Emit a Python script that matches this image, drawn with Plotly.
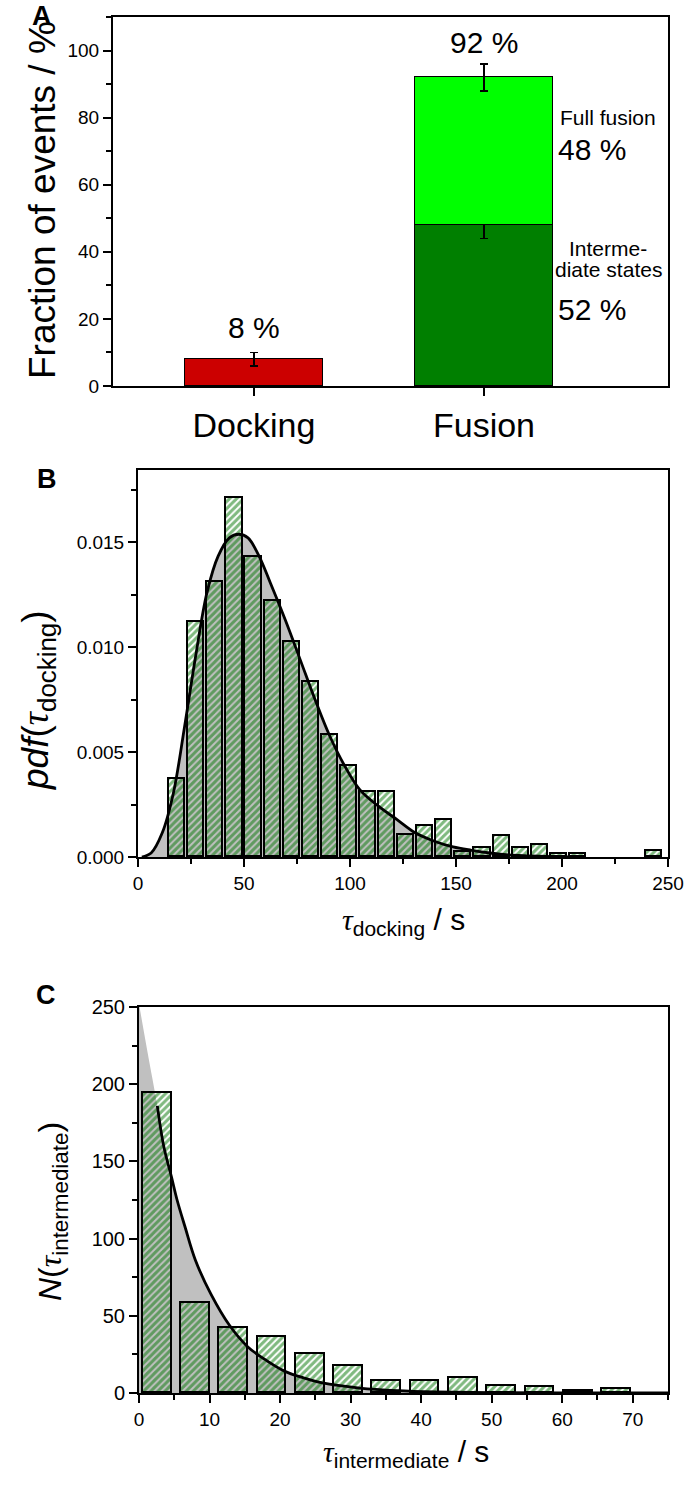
import plotly.graph_objects as go

# ---------------- Panel A data ----------------
a_categories = ["Docking", "Fusion"]
a_docking = [8]
a_docking_err = [2]
a_intermediate = [48]
a_intermediate_err = [4]
a_full = [44]
a_total_err = [4]
a_labels = ["8 %", "92 %", "48 %", "52 %"]
a_label_y = [17.3, 102.4]

# ---------------- Panel B data ----------------
b_centers = [18.5, 27.5, 36.5, 45.5, 54.5, 63.5, 72.5, 81.5, 90.5, 99.5, 108.5, 117.5,
             126.5, 135.5, 144.5, 153.5, 162.5, 171.5, 180.5, 189.5, 198.5, 207.5, 243.5]
b_pdf = [0.00372, 0.01117, 0.01309, 0.0171, 0.01427, 0.0122, 0.01026, 0.00834, 0.0058,
         0.00432, 0.00311, 0.00311, 0.00103, 0.00146, 0.00176, 0.00026, 0.00042, 0.00100,
         0.00042, 0.00057, 0.00013, 0.00013, 0.00028]
b_fit_x = [1.8, 6.2, 11.4, 16.7, 22.0, 27.2, 32.5, 37.8, 43.1, 47.5, 51.9, 57.1, 62.4,
           69.4, 76.5, 83.5, 90.5, 97.6, 104.6, 113.4, 122.2, 131.0, 139.8, 148.6, 157.3,
           166.1, 174.9, 192.5, 210.0]
b_fit_y = [0.0, 0.00019, 0.00114, 0.00305, 0.00623, 0.00957, 0.01258, 0.01433, 0.0152,
           0.01537, 0.0152, 0.01433, 0.01306, 0.01131, 0.0094, 0.0075, 0.00575, 0.00432,
           0.00321, 0.00242, 0.00178, 0.00114, 0.00075, 0.00048, 0.00032, 0.00019, 0.0001,
           0.00003, 0.0]

# ---------------- Panel C data ----------------
c_centers = [2.6, 8.0, 13.4, 18.85, 24.3, 29.75, 35.15, 40.55, 45.95, 51.45, 56.85, 62.3, 67.75]
c_counts = [194, 58, 42, 36, 25, 17.5, 8, 8, 9.5, 4.3, 3.7, 1.3, 2.6]
c_fit_x = [2.6, 3.5, 4.6, 5.4, 6.5, 8.0, 10.2, 12.8, 15.4, 18.1, 20.7, 23.4, 26.0, 31.3,
           36.6, 41.9, 50.0, 60.0, 75.0]
c_fit_y = [186, 160, 140, 125, 108, 86, 64, 44, 30, 21, 14, 9.7, 6.5, 3.2, 1.5, 0.7,
           0.2, 0.05, 0.01]
c_area_head_x = [0.0, 1.2]
c_area_head_y = [252, 221]

SANS = "Liberation Sans, Arial, sans-serif"
GREEN_DARK = "#007f00"
GREEN_LIGHT = "#00ff00"
RED = "#cc0000"
GRAY = "#c0c0c0"
HATCH = "#007400"

fig = go.Figure()

# ---- Panel A bars ----
fig.add_trace(go.Bar(x=[a_categories[0]], y=a_docking, width=0.6, marker=dict(color=RED, line=dict(color="black", width=1.5)),
                     error_y=dict(type="data", array=a_docking_err, color="black", thickness=1.5, width=4),
                     xaxis="x", yaxis="y", showlegend=False))
fig.add_trace(go.Bar(x=[a_categories[1]], y=a_intermediate, width=0.6, marker=dict(color=GREEN_DARK, line=dict(color="black", width=1.5)),
                     error_y=dict(type="data", array=a_intermediate_err, color="black", thickness=1.5, width=4),
                     xaxis="x", yaxis="y", showlegend=False))
fig.add_trace(go.Bar(x=[a_categories[1]], y=a_full, width=0.6, marker=dict(color=GREEN_LIGHT, line=dict(color="black", width=1.5)),
                     error_y=dict(type="data", array=a_total_err, color="black", thickness=1.5, width=4),
                     xaxis="x", yaxis="y", showlegend=False))

hatch = dict(shape="/", fgcolor=HATCH, bgcolor="rgba(0,0,0,0)", size=5, solidity=0.6)

# ---- Panel B ----
fig.add_trace(go.Scatter(x=b_fit_x, y=b_fit_y, mode="lines", line=dict(width=0, shape="spline"),
                         fill="tozeroy", fillcolor=GRAY, xaxis="x2", yaxis="y2", showlegend=False))
fig.add_trace(go.Bar(x=b_centers, y=b_pdf, width=7.6,
                     marker=dict(color=HATCH, line=dict(color="black", width=1.8), pattern=hatch),
                     xaxis="x2", yaxis="y4", showlegend=False))
fig.add_trace(go.Scatter(x=b_fit_x, y=b_fit_y, mode="lines", line=dict(color="black", width=2.8, shape="spline"),
                         xaxis="x2", yaxis="y4", showlegend=False))

# ---- Panel C ----
fig.add_trace(go.Scatter(x=c_area_head_x + c_fit_x, y=c_area_head_y + c_fit_y, mode="lines",
                         line=dict(width=0, shape="spline"), fill="tozeroy", fillcolor=GRAY,
                         xaxis="x3", yaxis="y3", showlegend=False))
fig.add_trace(go.Bar(x=c_centers, y=c_counts, width=4.1,
                     marker=dict(color=HATCH, line=dict(color="black", width=1.8), pattern=hatch),
                     xaxis="x3", yaxis="y5", showlegend=False))
fig.add_trace(go.Scatter(x=c_fit_x, y=c_fit_y, mode="lines", line=dict(color="black", width=2.8, shape="spline"),
                         xaxis="x3", yaxis="y5", showlegend=False))

W, H = 685, 1489
def px(x):
    return x / W
def py(y):
    return 1 - y / H

minor_ticks = dict(ticks="outside", ticklen=5, tickwidth=1.5, tickcolor="black")
axis_common = dict(showline=True, linecolor="black", linewidth=2, mirror=True, ticks="outside",
                   ticklen=8, tickwidth=2, tickcolor="black", showgrid=False, zeroline=False,
                   tickfont=dict(family=SANS, size=19, color="black"))

fig.update_layout(
    width=W, height=H, margin=dict(l=0, r=0, t=0, b=0, autoexpand=False),
    paper_bgcolor="white", plot_bgcolor="white", barmode="stack", bargap=0,
    font=dict(family=SANS, color="black"),
    xaxis=dict(axis_common, domain=[px(113), px(668)], anchor="y", type="category",
               range=[-0.613, 1.8], tickfont=dict(family=SANS, size=34, color="black")),
    yaxis=dict(axis_common, domain=[py(386), py(17)], anchor="x", range=[0, 110], dtick=20,
               minor=dict(minor_ticks, dtick=10)),
    xaxis2=dict(axis_common, domain=[px(138), px(668)], anchor="y2", range=[0, 250], dtick=50,
                minor=dict(minor_ticks, dtick=25)),
    yaxis2=dict(axis_common, domain=[py(857), py(470)], anchor="x2", range=[0, 0.01843],
                tickvals=[0, 0.005, 0.010, 0.015], tickformat=".3f",
                minor=dict(minor_ticks, tickvals=[0.0025, 0.0075, 0.0125, 0.0175])),
    yaxis4=dict(overlaying="y2", anchor="x2", range=[0, 0.01843], visible=False),
    xaxis3=dict(axis_common, domain=[px(139), px(668)], anchor="y3", range=[0, 75], dtick=10,
                minor=dict(minor_ticks, dtick=5)),
    yaxis3=dict(axis_common, domain=[py(1393), py(1007)], anchor="x3", range=[0, 250], dtick=50,
                tickfont=dict(family=SANS, size=20, color="black"),
                minor=dict(minor_ticks, dtick=25)),
    yaxis5=dict(overlaying="y3", anchor="x3", range=[0, 250], visible=False),
)

tau = '<span style="font-family:Liberation Serif"><i>τ</i></span>'

def note(text, x, y, size, xanchor="center", yanchor="middle", angle=0, bold=False, ref=None):
    d = dict(text=f"<b>{text}</b>" if bold else text, showarrow=False, textangle=angle,
             xanchor=xanchor, yanchor=yanchor, font=dict(family=SANS, size=size, color="black"))
    if ref is None:
        d.update(x=px(x), y=py(y), xref="paper", yref="paper")
    else:
        d.update(x=x, y=y, xref=ref[0], yref=ref[1])
    return d

ann = []
for letter, (x, y) in zip(["A", "B", "C"], [(42, 16), (47, 479), (46, 995)]):
    ann.append(note(letter, x, y, 27, bold=True))
# Panel A texts
ann.append(note("Fraction of events / %", 42, 200, 37, angle=-90))
ann.append(note(a_labels[0], a_categories[0], a_label_y[0], 30, ref=("x", "y")))
ann.append(note(a_labels[1], a_categories[1], a_label_y[1], 30, ref=("x", "y")))
ann.append(note("Full fusion", 558, 117, 21, xanchor="left"))
ann.append(note(a_labels[2], 556, 150, 30, xanchor="left"))
ann.append(note("Interme-", 608, 248, 21))
ann.append(note("diate states", 608, 270, 21))
ann.append(note(a_labels[3], 556, 309, 30, xanchor="left"))
# Panel B titles
ann.append(note(f"<i>pdf</i>({tau}<sub>docking</sub>)", 38, 700, 37, angle=-90))
ann.append(note(f"{tau}<sub>docking</sub> / s", 403, 921, 30))
# Panel C titles
ann.append(note(f"<i>N</i>({tau}<sub>intermediate</sub>)", 52, 1212, 32, angle=-90))
ann.append(note(f"{tau}<sub>intermediate</sub> / s", 406, 1453, 30))
fig.update_layout(annotations=ann)

fig.write_html("out.html", config={"displayModeBar": False},
               post_script="document.body.style.margin='0';document.body.style.padding='0';document.documentElement.style.overflow='hidden';")
